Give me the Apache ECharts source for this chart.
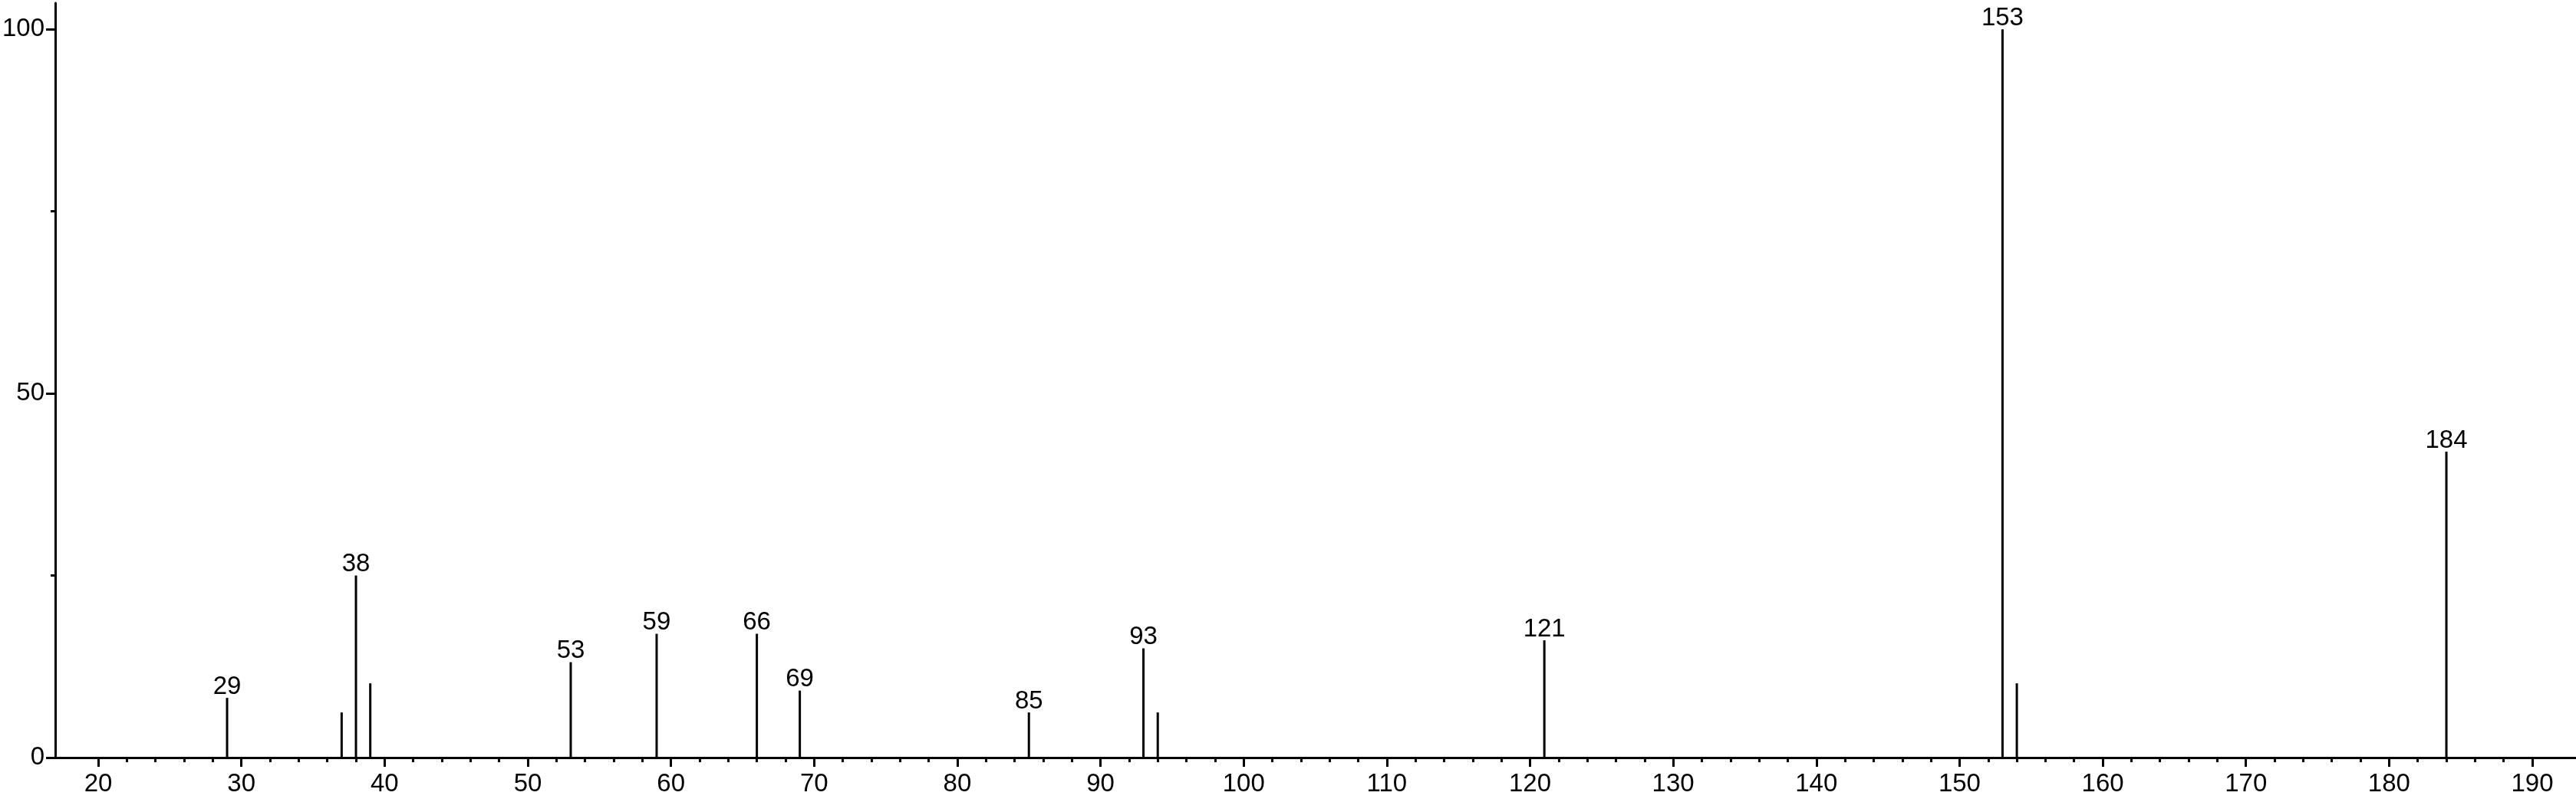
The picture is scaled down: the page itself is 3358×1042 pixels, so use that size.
<!DOCTYPE html>
<html>
<head>
<meta charset="utf-8">
<script src="https://cdn.jsdelivr.net/npm/echarts@6/dist/echarts.min.js"></script>
<style>
html,body{margin:0;padding:0;background:#fff;}
#chart{width:3358px;height:1042px;}
</style>
</head>
<body>
<div id="chart"></div>
<script>
// m/z values of the peaks
const mz = [29, 37, 38, 39, 53, 59, 66, 69, 85, 93, 94, 121, 153, 154, 184];
// relative intensities (%)
const intensity = [8.2, 6.2, 25.0, 10.2, 13.1, 17.0, 17.0, 9.2, 6.2, 15.0, 6.2, 16.1, 100, 10.2, 42.0];
// peaks that carry an m/z label
const labeledPeaks = [29, 38, 53, 59, 66, 69, 85, 93, 121, 153, 184];
// axis tick values
const xMajorTicks = [20, 30, 40, 50, 60, 70, 80, 90, 100, 110, 120, 130, 140, 150, 160, 170, 180, 190];
const xMinorTicks = [];
for (let i = 0; i < xMajorTicks.length - 1; i++) {
  for (let k = 2; k < 10; k += 2) xMinorTicks.push(xMajorTicks[i] + k);
}
const yMajorTicks = [0, 50, 100];
const yMinorTicks = [25, 75];

const FONT = 'Liberation Sans';
const chart = echarts.init(document.getElementById('chart'), null, {renderer: 'canvas'});

const data = mz.map((m, i) => ({
  value: [m, intensity[i]],
  label: {show: labeledPeaks.includes(m)}
}));

const X_MIN = 17, X_MAX = 193, Y_MIN = 0, Y_MAX = 103.6;

chart.setOption({
  animation: false,
  backgroundColor: '#ffffff',
  grid: {left: 69, right: 1, top: 4, bottom: 54, containLabel: false},
  xAxis: [
    {
      type: 'value', min: X_MIN, max: X_MAX, position: 'bottom',
      axisLine: {show: true, onZero: false, lineStyle: {color: '#000', width: 3}},
      axisTick: {show: true, customValues: xMajorTicks, length: 12, lineStyle: {color: '#000', width: 3}},
      axisLabel: {show: true, customValues: xMajorTicks, margin: 18, color: '#000', fontFamily: FONT, fontSize: 33},
      splitLine: {show: false}
    },
    {
      type: 'value', min: X_MIN, max: X_MAX, position: 'bottom',
      axisLine: {show: false, onZero: false},
      axisTick: {show: true, customValues: xMinorTicks, length: 6, lineStyle: {color: '#000', width: 3}},
      axisLabel: {show: false},
      splitLine: {show: false}
    }
  ],
  yAxis: [
    {
      type: 'value', min: Y_MIN, max: Y_MAX, position: 'left',
      axisLine: {show: true, onZero: false, lineStyle: {color: '#000', width: 3}},
      axisTick: {show: true, customValues: yMajorTicks, length: 12, lineStyle: {color: '#000', width: 3}},
      axisLabel: {show: true, customValues: yMajorTicks, margin: 14, color: '#000', fontFamily: FONT, fontSize: 33},
      splitLine: {show: false}
    },
    {
      type: 'value', min: Y_MIN, max: Y_MAX, position: 'left',
      axisLine: {show: false, onZero: false},
      axisTick: {show: true, customValues: yMinorTicks, length: 6, lineStyle: {color: '#000', width: 3}},
      axisLabel: {show: false},
      splitLine: {show: false}
    }
  ],
  series: [{
    type: 'bar',
    xAxisIndex: 0,
    yAxisIndex: 0,
    barWidth: 3,
    itemStyle: {color: '#000'},
    label: {
      position: 'top', distance: -2, color: '#000', fontFamily: FONT, fontSize: 33,
      formatter: p => String(p.value[0])
    },
    data: data
  }]
});
</script>
</body>
</html>
